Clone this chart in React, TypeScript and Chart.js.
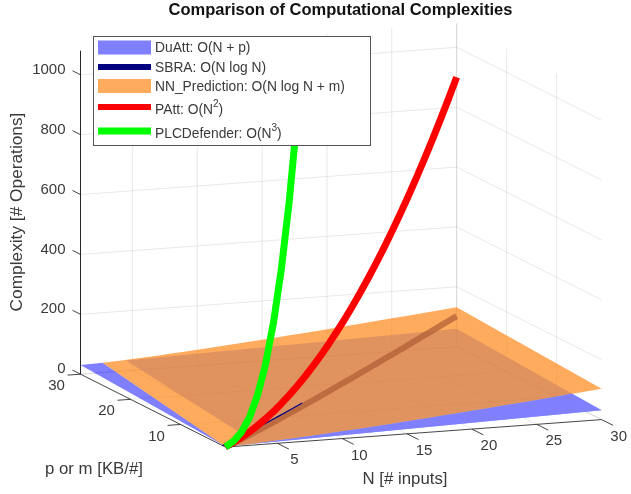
import React, { useEffect, useRef } from "react";
import { Chart, registerables } from "chart.js";

Chart.register(...registerables);

const nValues = [1,2,3,4,5,6,7,8,9,10,11,12,13,14,15,16,17,18,19,20,21,22,23,24,25,26,27,28,29,30];
const sbraValues = [0,1.39,3.3,5.55,8.05,10.75,13.62,16.64,19.78,23.03,26.38,29.82,33.34,36.95,40.62,44.36,48.16,52.03,55.94,59.91,63.93,68,72.12,76.27,80.47,84.71,88.99,93.3,97.65,102.04];
const pattValues = [1,4,9,16,25,36,49,64,81,100,121,144,169,196,225,256,289,324,361,400,441,484,529,576,625,676,729,784,841,900];
const plcValues = [1,8,27,64,125,216,343,512,729,1000];

const duattMainN = [4.5,30,30,1,3.5];
const duattMainP = [30,30,1,1,3];
const duattMainZ = [34.5,60,31,2,6.5];
const duattBandN = [1,2.7,1];
const duattBandP = [30,30,1];
const duattBandZ = [31,32.7,2];
const duattFrontZ = [2,3,4,5,6,7,8,9,10,11,12,13,14,15,16,17,18,19,20,21,22,23,24,25,26,27,28,29,30,31];
const duattMeetP = 7;
const duattMeetZ = 37;
const nnMeetIndex = 27;
const nnTipN = 2.7;
const nnTipZ = 32.7;
const nnLowM = 1;
const nnHighM = 30;
const sbraTraceEnd = 11;

const nTicks = [5,10,15,20,25,30];
const pTicks = [10,20,30];
const zTicks = [0,200,400,600,800,1000];
const N_MIN = 1, N_MAX = 30, P_MIN = 1, P_MAX = 30, Z_TOP = 1080;

const legendLabels = ["DuAtt: O(N + p)", "SBRA: O(N log N)", "NN_Prediction: O(N log N + m)", "PAtt: O(N", "PLCDefender: O(N"];
const legendSup = ["", "", "", "2", "3"];
const legendColors = ["rgb(128,128,255)", "rgb(0,0,128)", "rgb(255,171,94)", "rgb(255,0,0)", "rgb(0,255,0)"];

const TITLE_H = 19.8;
const project = (n: number, p: number, z: number) => ({
  x: 225.5 + (n - 1) * 12.97 - (p - 1) * 5,
  y: 447 - (n - 1) * 0.95 - (p - 1) * 2.52 - z * 0.3,
});

const FONT = '"Liberation Sans", Arial, sans-serif';
const GRID = "rgba(38,38,38,0.1)";
const AXIS = "rgba(38,38,38,0.85)";
const TEXT = "#3a3a3a";

function line(label: string, pts: {x:number;y:number}[], color: string, width: number, extra: any = {}) {
  return { label, data: pts, showLine: true, borderColor: color, borderWidth: width, pointRadius: 0, borderCapStyle: "butt", borderJoinStyle: "round", tension: 0, clip: false, ...extra };
}
function poly(label: string, pts: {x:number;y:number}[], color: string) {
  return { label, data: [...pts, pts[0]], showLine: true, borderWidth: 0, borderColor: "transparent", backgroundColor: color, fill: "shape", pointRadius: 0, tension: 0, clip: false };
}

function buildDatasets() {
  const ds: any[] = [];
  // walls and floor grid
  nTicks.forEach((n) => {
    ds.push(line("g", [project(n, P_MAX, 0), project(n, P_MAX, Z_TOP)], GRID, 1));
    ds.push(line("g", [project(n, P_MIN, 0), project(n, P_MAX, 0)], GRID, 1));
  });
  pTicks.forEach((p) => {
    ds.push(line("g", [project(N_MAX, p, 0), project(N_MAX, p, Z_TOP)], GRID, 1));
    ds.push(line("g", [project(N_MIN, p, 0), project(N_MAX, p, 0)], GRID, 1));
  });
  zTicks.forEach((z) => {
    ds.push(line("g", [project(N_MIN, P_MAX, z), project(N_MAX, P_MAX, z), project(N_MAX, P_MIN, z)], GRID, 1));
  });
  // axes
  ds.push(line("a", [project(N_MIN, P_MAX, Z_TOP), project(N_MIN, P_MAX, 0), project(N_MIN, P_MIN, 0), project(N_MAX, P_MIN, 0)], AXIS, 1));
  nTicks.forEach((n) => ds.push(line("t", [project(n, P_MIN, 0), project(n, P_MIN - 2.3, 0)], AXIS, 1)));
  pTicks.forEach((p) => ds.push(line("t", [project(N_MIN, p, 0), project(N_MIN - 1, p, 0)], AXIS, 1)));
  zTicks.forEach((z) => ds.push(line("t", [project(N_MIN, P_MAX, z), project(N_MIN, P_MAX + 1.6, z)], AXIS, 1)));
  // surfaces and curves
  ds.push(poly("DuAtt", duattMainN.map((n, i) => project(n, duattMainP[i], duattMainZ[i])), "rgba(49,95,255,0.5)"));
  ds.push(poly("DuAtt edge", duattBandN.map((n, i) => project(n, duattBandP[i], duattBandZ[i])), "rgba(0,0,255,0.5)"));
  ds.push(line("SBRA", nValues.map((n, i) => project(n, n, sbraValues[i])), "rgba(0,0,128,0.75)", 6));
  const front = nValues.map((n, i) => project(n, nnLowM, sbraValues[i] + nnLowM));
  const back = nValues.slice(2).reverse().map((n) => project(n, nnHighM, sbraValues[n - 1] + nnHighM));
  ds.push(poly("NN_Prediction", [...front, ...back, project(nnTipN, nnHighM, nnTipZ)], "rgba(255,135,25,0.7)"));
  const duFront = nValues.map((n, i) => project(n, P_MIN, duattFrontZ[i]));
  ds.push(poly("DuAtt front", [...duFront, project(N_MAX, duattMeetP, duattMeetZ), ...front.slice(0, nnMeetIndex).reverse()], "rgb(128,128,255)"));
  ds.push(line("SBRA trace", nValues.slice(0, sbraTraceEnd).map((n, i) => project(n, n + 0.6, sbraValues[i])), "rgb(0,0,128)", 1.2));
  ds.push(line("PAtt", nValues.map((n, i) => project(n, n, pattValues[i])), "rgb(255,0,0)", 7));
  ds.push(line("PLCDefender", plcValues.map((z, i) => project(nValues[i], nValues[i], z)), "rgb(0,255,0)", 7));
  ds.forEach((d, i) => { d.order = ds.length - i; });
  return ds;
}

const overlay = {
  id: "overlay",
  afterDraw(chart: any) {
    const { ctx, scales } = chart;
    const px = (pt: {x:number;y:number}) => ({ x: scales.x.getPixelForValue(pt.x), y: scales.y.getPixelForValue(pt.y) });
    ctx.save();
    ctx.fillStyle = TEXT;
    ctx.textBaseline = "middle";
    ctx.font = `15px ${FONT}`;
    ctx.textAlign = "right";
    zTicks.forEach((z) => {
      const a = px(project(N_MIN, P_MAX, z));
      ctx.fillText(String(z), a.x - 15, a.y - 5);
    });
    ctx.textAlign = "center";
    pTicks.forEach((p) => {
      const a = px(project(N_MIN, p, 0));
      ctx.fillText(String(p), a.x - 24, a.y + 12);
    });
    nTicks.forEach((n) => {
      const a = px(project(n, P_MIN, 0));
      ctx.fillText(String(n), a.x + 17, a.y + 17);
    });
    ctx.font = `16.8px ${FONT}`;
    ctx.fillText("N [# inputs]", 405, 479);
    ctx.fillText("p or m [KB/#]", 94, 469);
    ctx.save();
    ctx.translate(17, 212);
    ctx.rotate(-Math.PI / 2);
    ctx.font = `17.3px ${FONT}`;
    ctx.fillText("Complexity [# Operations]", 0, 0);
    ctx.restore();
    // legend
    const lx = 93, ly = 36, lw = 277, lh = 109;
    ctx.fillStyle = "#fff";
    ctx.fillRect(lx, ly, lw, lh);
    ctx.strokeStyle = "#555";
    ctx.lineWidth = 1;
    ctx.strokeRect(lx + 0.5, ly + 0.5, lw, lh);
    const rows = [47.5, 67, 86, 107, 131];
    const heights = [14, 6, 14, 6, 7];
    ctx.textAlign = "left";
    legendLabels.forEach((t, i) => {
      ctx.fillStyle = legendColors[i];
      ctx.fillRect(98, rows[i] - heights[i] / 2, 53, heights[i]);
      ctx.fillStyle = TEXT;
      ctx.font = `13.8px ${FONT}`;
      const ty = i < 3 ? rows[i] + 1 : rows[i] + 3;
      ctx.fillText(t, 155, ty);
      if (legendSup[i]) {
        const w = ctx.measureText(t).width;
        ctx.font = `10px ${FONT}`;
        ctx.fillText(legendSup[i], 155 + w, ty - 6);
        const sw = ctx.measureText(legendSup[i]).width;
        ctx.font = `13.8px ${FONT}`;
        ctx.fillText(")", 155 + w + sw, ty);
      }
    });
    ctx.restore();
  },
};

export default function App() {
  const ref = useRef<HTMLCanvasElement>(null);
  useEffect(() => {
    const chart = new Chart(ref.current as HTMLCanvasElement, {
      type: "scatter",
      data: { datasets: buildDatasets() },
      plugins: [overlay],
      options: {
        animation: false,
        responsive: false,
        events: [],
        layout: { padding: { left: 50, right: 0, top: 0, bottom: 0 } },
        scales: {
          x: { type: "linear", display: false, min: 50, max: 631 },
          y: { type: "linear", display: false, min: TITLE_H, max: 494, reverse: true },
        },
        plugins: {
          legend: { display: false },
          tooltip: { enabled: false },
          title: {
            display: true,
            text: "Comparison of Computational Complexities",
            color: "#111",
            font: { family: FONT, size: 16.5, weight: "bold", lineHeight: 1.2 },
            padding: { top: 1, bottom: 0 },
          },
        },
      },
    } as any);
    return () => chart.destroy();
  }, []);
  return (
    <div style={{ position: "fixed", left: 0, top: 0, width: 631, height: 494, background: "#fff" }}>
      <canvas ref={ref} width={631} height={494} style={{ display: "block" }} />
    </div>
  );
}
